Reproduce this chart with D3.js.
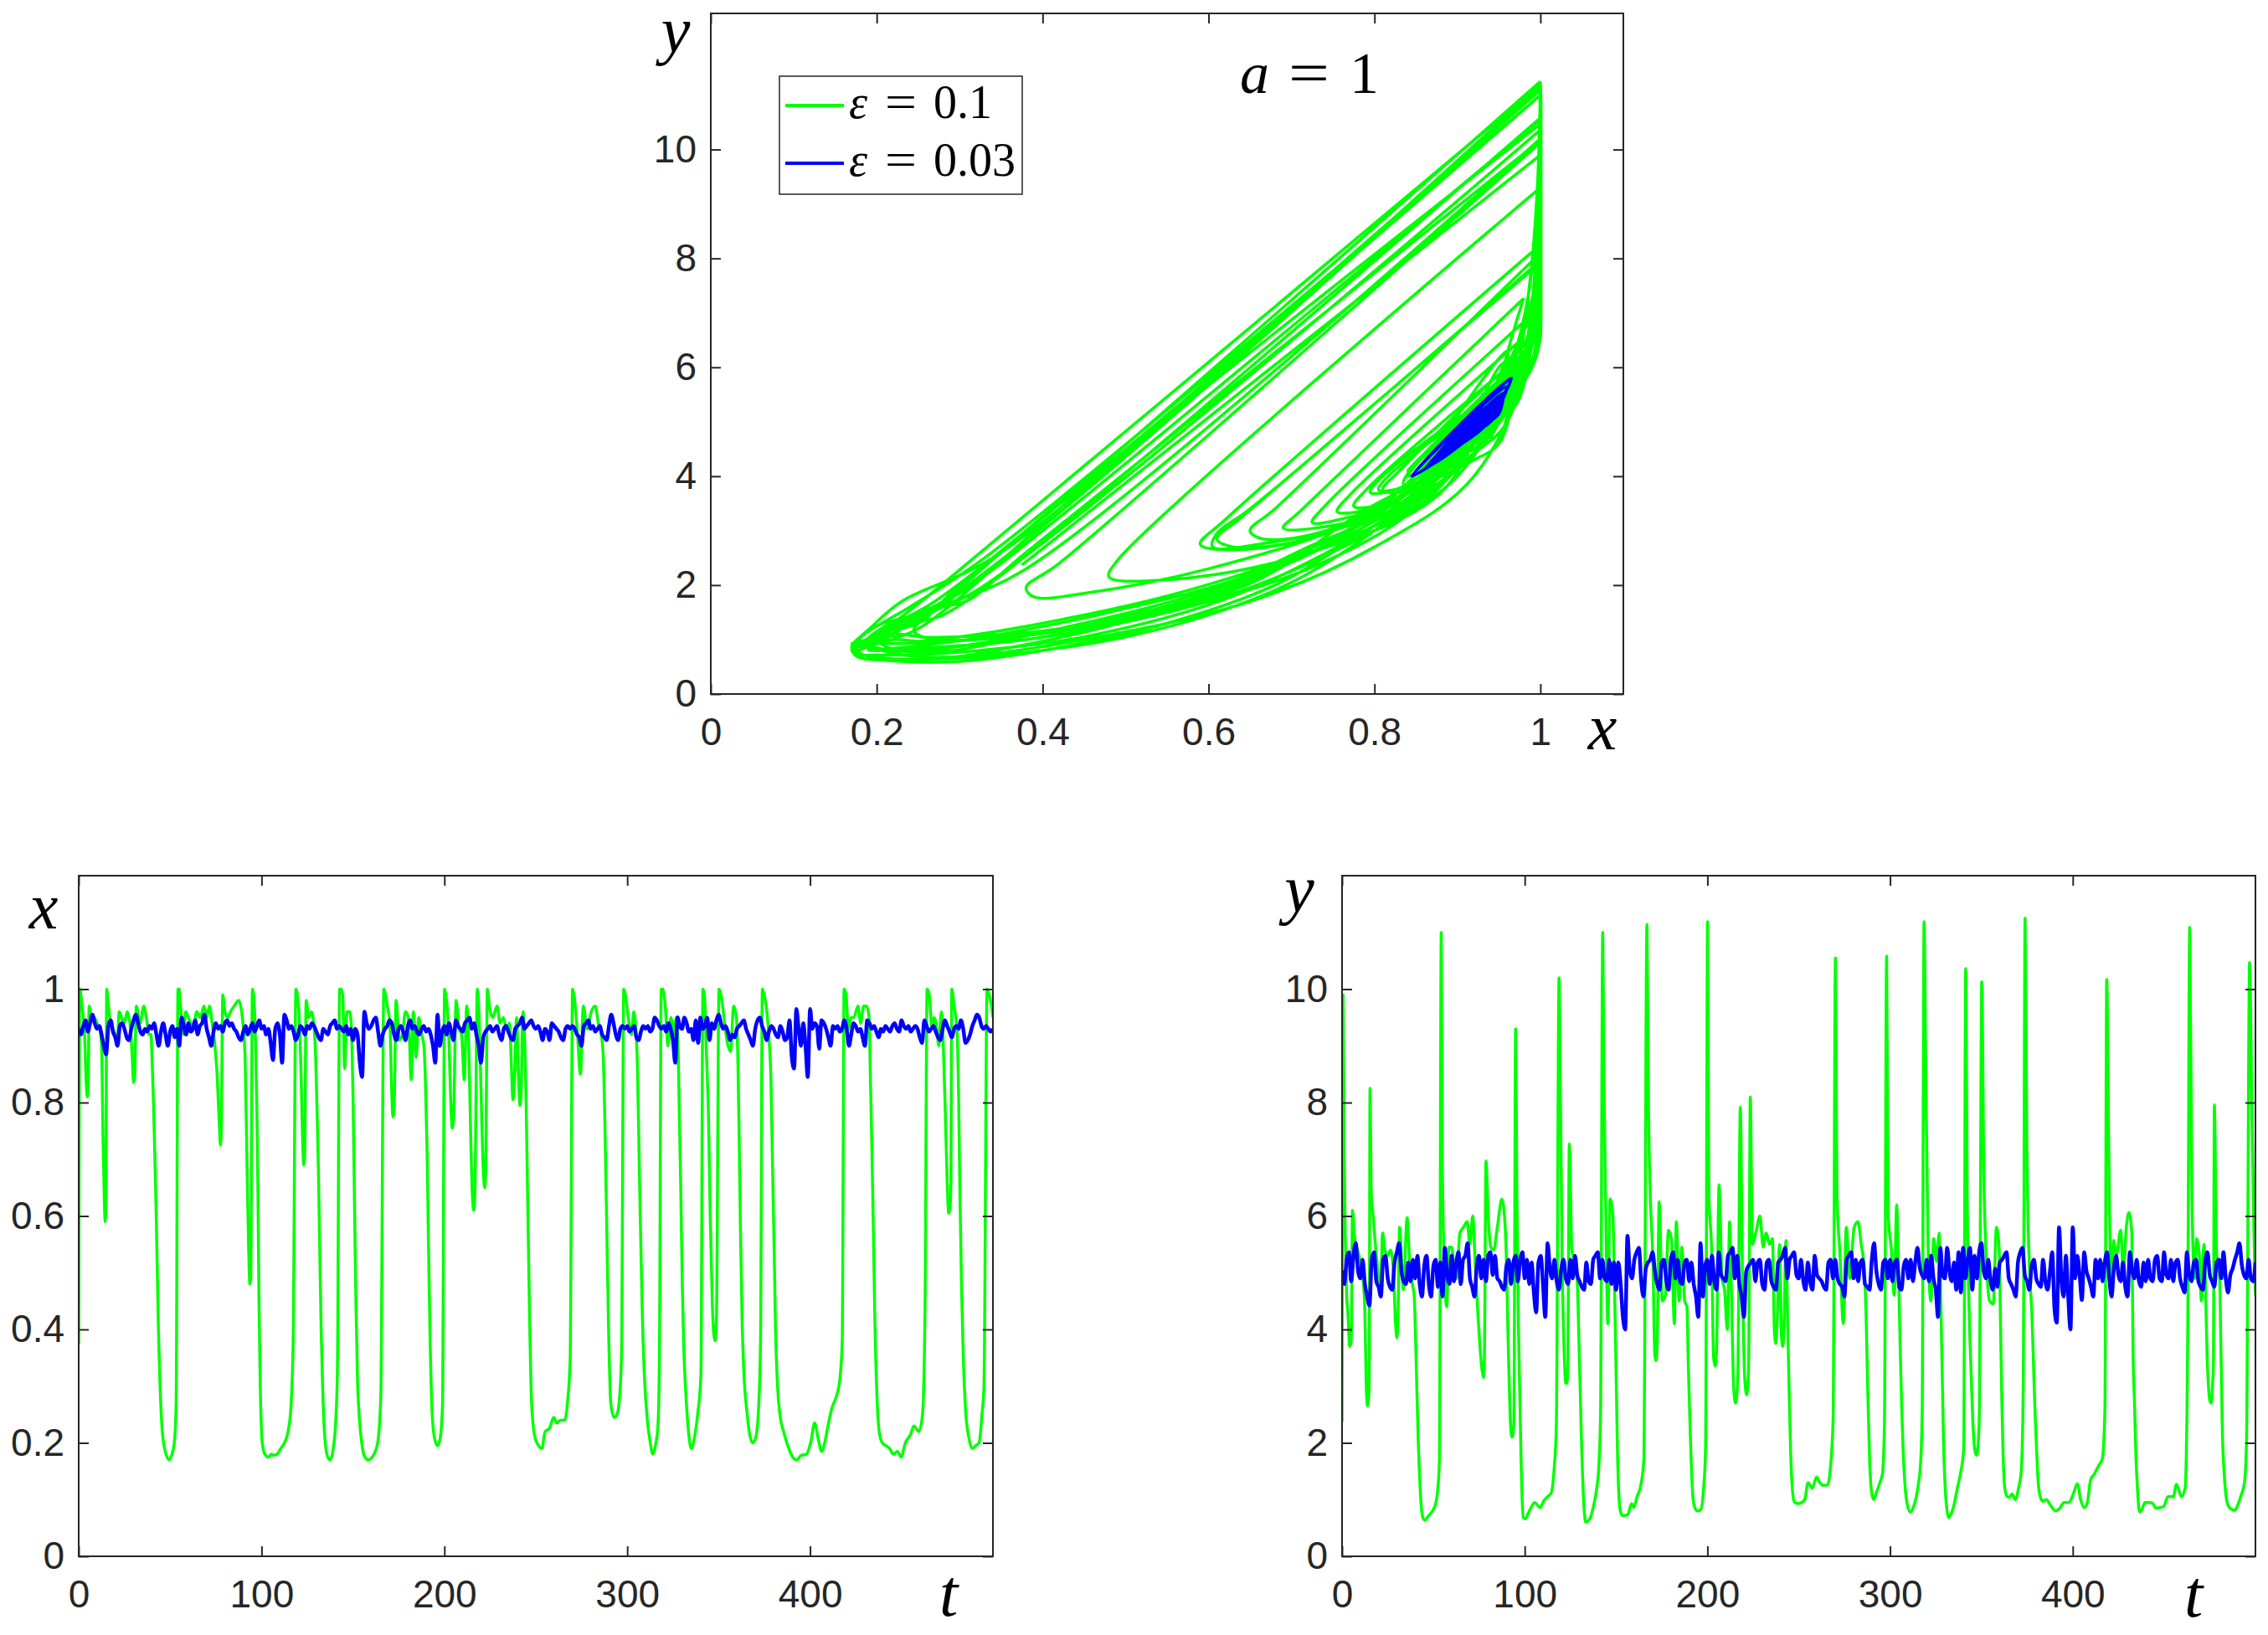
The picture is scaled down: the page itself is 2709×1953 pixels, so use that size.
<!DOCTYPE html>
<html>
<head>
<meta charset="utf-8">
<script src="https://d3js.org/d3.v7.min.js"></script>
<style>
  body { margin: 0; background: #fff; }
  .tick text { font-family: "Liberation Sans", Arial, sans-serif; font-size: 46px; fill: #262626; }
  .math { font-family: "Liberation Serif", "Times New Roman", serif; fill: #000; }
  .box { fill: none; stroke: #262626; stroke-width: 2px; }
</style>
</head>
<body>
<svg id="fig" width="2709" height="1953"></svg>
<script>
// ---- data: eps = 0.1 trajectory, samples [t, x, y] ----
const greenSamples = [
  [0,0.375,2.37],[0.6,1.0,9.9],[1.2,0.99,7.0],[1.8,0.97,5.6],[2.5,0.95,4.6],[3.2,0.92,4.3],[4.2,0.83,3.7],[4.8,0.81,3.75],
  [5.2,0.83,4.1],[5.7,0.97,6.1],[7.0,0.95,5.6],[8.5,0.95,5.4],[10.0,0.94,5.2],[11.5,0.93,4.9],[12.5,0.9,4.3],[13.3,0.74,2.95],
  [14.0,0.63,2.65],[14.5,0.59,2.75],[14.9,0.62,3.2],[15.3,1.0,8.25],[16.0,0.98,6.4],[17.0,0.95,6.0],[18.5,0.93,5.4],[20.0,0.92,4.9],
  [21.0,0.9,4.6],[22.2,0.96,5.7],[23.5,0.95,5.4],[25.0,0.94,5.3],[26.5,0.96,5.4],[28.0,0.94,5.1],[29.3,0.88,4.1],[30.0,0.835,3.85],
  [30.6,0.845,4.15],[31.5,0.97,5.8],[33.6,0.94,4.7],[35.6,0.97,5.97],[37.0,0.95,5.2],[38.5,0.92,4.8],[39.5,0.92,4.6],
  [40.2,0.87,3.9],[40.9,0.8,3.0],[41.7,0.7,2.05],[42.4,0.6,1.45],[43.0,0.5,1.05],[43.6,0.4,0.8],[44.5,0.3,0.66],[45.5,0.23,0.64],
  [47.0,0.19,0.7],[49.5,0.17,0.8],[51.0,0.18,0.9],[52.3,0.2,1.15],[53.3,0.27,1.7],[54.3,1.0,11.0],[54.9,1.0,7.0],[55.5,0.98,5.7],
  [57.3,0.92,4.4],[58.5,0.96,5.45],[60.0,0.95,5.45],[61.3,0.94,5.1],[62.7,0.93,4.9],[64.5,0.96,5.7],[66.5,0.95,5.8],[68.5,0.97,5.9],
  [70.0,0.95,5.5],[71.5,0.97,6.0],[73.0,0.94,5.1],[74.5,0.9,4.2],[75.5,0.86,3.7],[76.8,0.77,3.25],[77.5,0.725,3.15],[77.9,0.74,3.45],
  [78.8,0.99,6.97],[80.0,0.96,6.0],[81.5,0.95,5.45],[83.0,0.96,5.4],[85.0,0.97,5.8],[87.5,0.98,6.3],[89.5,0.95,5.7],
  [91.0,0.88,3.7],[92.0,0.7,2.5],[92.9,0.55,2.1],[93.6,0.48,2.15],[94.1,0.49,2.45],[95.0,1.0,9.3],[95.7,0.99,6.4],[96.6,0.92,4.0],
  [97.4,0.8,2.7],[98.0,0.65,1.7],[98.6,0.45,1.0],[99.3,0.3,0.68],[100.4,0.2,0.66],[101.8,0.18,0.75],[103.8,0.175,0.88],
  [105.5,0.18,0.95],[106.5,0.178,0.92],[108.5,0.18,0.86],[110.5,0.19,0.98],[112.5,0.2,1.05],[114.5,0.22,1.12],[116.0,0.26,1.5],
  [117.3,0.38,2.3],[118.8,1.0,10.2],[119.6,0.99,7.9],[120.6,0.95,5.0],[121.7,0.84,3.5],[122.5,0.73,3.05],[123.1,0.69,3.05],
  [123.6,0.71,3.35],[124.4,0.98,7.27],[125.8,0.95,5.4],[127.3,0.96,5.2],
  [128.8,0.93,4.8],[129.6,0.88,3.9],[130.4,0.78,2.9],[131.1,0.68,2.0],[131.8,0.55,1.3],[132.6,0.4,0.8],[133.4,0.3,0.6],
  [134.6,0.21,0.62],[136.2,0.175,0.7],[137.6,0.17,0.88],[139.2,0.19,1.15],[140.6,0.24,1.6],[141.5,0.33,2.5],[142.7,1.0,11.0],
  [143.5,1.0,8.0],[144.4,0.99,6.0],[145.5,0.86,4.1],[146.7,0.96,6.3],[148.2,0.96,6.05],[149.0,0.94,5.0],
  [149.6,0.88,4.0],[150.1,0.8,3.1],[150.8,0.63,1.8],[151.6,0.45,1.05],[152.5,0.31,0.78],[153.6,0.24,0.72],[154.8,0.2,0.72],
  [156.5,0.175,0.74],[158.5,0.17,0.93],[159.7,0.172,0.86],[161.5,0.18,1.05],[163.5,0.2,1.25],[165.2,0.28,1.7],[166.9,1.0,11.14],
  [167.8,0.99,7.8],[168.8,0.97,6.3],[170.2,0.94,5.2],[171.2,0.82,3.55],[171.9,0.775,3.45],[172.5,0.79,3.75],[173.6,0.98,6.25],
  [175.3,0.91,4.5],[177.0,0.92,4.6],[178.7,0.96,5.75],[180.3,0.95,5.6],[181.9,0.84,4.1],[183.0,0.96,5.9],[184.5,0.88,4.5],
  [186.0,0.95,5.45],[187.6,0.92,4.5],[188.8,0.9,4.4],
  [189.6,0.84,3.3],[190.5,0.72,2.3],[191.3,0.55,1.5],[192.2,0.38,1.0],[193.2,0.26,0.85],[194.5,0.21,0.8],[196.3,0.195,0.82],
  [197.8,0.21,1.15],[199.0,0.27,1.9],[200.1,1.0,11.19],
  [200.8,0.99,6.4],[202.4,0.92,5.3],[203.4,0.81,3.5],[204.3,0.755,3.35],[205.0,0.77,3.65],[206.4,0.98,6.55],[208.0,0.93,4.9],
  [209.4,0.92,4.7],[210.9,0.84,4.0],[212.2,0.97,5.9],[213.2,0.92,4.6],[214.4,0.74,2.95],[215.4,0.63,2.7],[216.1,0.61,2.85],
  [216.7,0.64,3.25],[218.0,1.0,7.92],[219.2,0.93,4.9],[220.5,0.76,3.1],[221.5,0.665,2.85],[222.1,0.65,3.0],[222.6,0.68,3.4],
  [223.5,1.0,8.1],[224.6,0.97,5.5],[226.5,0.95,5.7],[228.8,0.97,6.0],[230.5,0.94,5.45],[232.2,0.95,5.7],[234.0,0.93,5.5],
  [235.6,0.94,5.6],[236.7,0.86,3.95],[237.5,0.805,3.75],[238.1,0.82,4.05],[239.5,0.95,5.5],[240.6,0.84,3.85],[241.3,0.795,3.7],
  [241.9,0.81,4.0],[243.0,0.96,5.57],
  [244.0,0.9,4.0],[244.7,0.8,3.0],[245.6,0.62,1.8],[246.6,0.42,1.15],[247.7,0.27,0.95],[249.5,0.21,0.93],[251.5,0.195,0.95],
  [253.3,0.19,1.0],[255.1,0.22,1.3],[257.4,0.225,1.2],[259.8,0.245,1.4],[261.5,0.235,1.3],[263.5,0.24,1.25],[265.8,0.24,1.26],
  [267.3,0.27,1.55],[268.8,0.35,2.4],[270.1,1.0,10.55],
  [270.9,0.99,6.4],[272.6,0.93,5.3],[274.4,0.85,4.1],[276.0,0.97,5.8],[278.0,0.93,4.9],[280.3,0.96,5.8],[282.5,0.97,5.9],
  [284.2,0.94,5.5],[285.8,0.92,5.1],[286.9,0.88,4.2],[287.8,0.76,2.9],[288.8,0.58,1.7],[289.8,0.4,1.15],[291.0,0.27,1.0],
  [292.8,0.245,1.15],[294.4,0.25,1.3],[295.8,0.28,1.45],[296.9,0.36,2.3],[298.1,1.0,10.58],
  [299.0,0.99,6.0],[300.6,0.95,5.45],[302.3,0.92,4.6],[303.6,0.96,6.2],[304.7,0.93,4.9],[305.6,0.86,3.6],[306.3,0.74,2.7],
  [307.1,0.6,1.9],[308.3,0.42,1.2],[309.5,0.31,0.9],[311.0,0.24,0.78],[312.6,0.2,0.85],[314.0,0.18,1.0],[315.4,0.195,1.25],
  [316.8,0.23,1.7],[317.6,0.35,2.6],[318.6,1.0,11.19],
  [319.5,1.0,8.7],[320.8,0.97,5.5],[322.3,0.9,4.5],[323.9,0.95,5.6],[325.4,0.92,5.2],[326.9,0.95,5.7],[327.8,0.9,4.4],
  [328.5,0.78,3.3],[329.2,0.66,2.1],[330.1,0.48,1.25],[331.0,0.36,0.85],[332.0,0.29,0.68],[333.5,0.22,0.75],[335.1,0.19,0.92],
  [336.8,0.21,1.2],[338.5,0.25,1.45],[340.3,0.32,1.9],[341.4,1.0,10.36],
  [342.2,0.99,6.44],[343.4,0.88,4.2],[344.4,0.78,3.2],[345.4,0.6,2.3],[346.5,0.45,1.85],[347.4,0.39,1.78],[348.1,0.38,1.95],
  [348.8,0.42,2.4],[350.2,1.0,10.13],[351.3,0.99,6.8],[352.9,0.95,5.1],[354.5,0.91,4.5],[356.5,0.89,4.45],[358.2,0.97,5.8],
  [359.7,0.95,5.45],[360.6,0.86,3.8],[361.2,0.74,2.7],[361.9,0.58,1.75],[362.8,0.42,1.2],[364.0,0.31,1.06],[365.3,0.26,1.04],
  [366.7,0.22,1.1],[368.6,0.2,1.0],[370.3,0.21,1.2],[371.8,0.26,1.5],[372.9,0.38,3.0],[373.9,1.0,11.25],
  [374.9,0.99,7.2],[376.4,0.96,5.0],[377.6,0.91,4.3],[378.6,0.84,3.3],[379.4,0.7,2.5],[380.3,0.55,1.8],[381.1,0.4,1.3],
  [382.2,0.3,1.05],[383.5,0.25,0.97],[385.5,0.22,1.0],[387.8,0.195,0.9],[390.5,0.175,0.8],[392.7,0.17,0.84],[395.2,0.178,0.95],
  [398.0,0.18,0.95],[400.3,0.2,1.1],[402.5,0.235,1.28],[404.3,0.21,1.0],[406.3,0.185,0.86],[408.0,0.2,0.95],[409.8,0.23,1.35],
  [411.8,0.26,1.45],[414.2,0.28,1.6],[416.2,0.31,1.72],[417.6,0.38,2.6],[418.6,1.0,10.17],
  [419.7,0.99,7.2],[420.9,0.93,4.9],[422.4,0.95,5.57],[423.9,0.95,5.3],[426.2,0.97,5.75],[427.7,0.94,5.0],[429.3,0.97,5.8],
  [430.8,0.97,6.06],[432.3,0.95,5.7],[433.0,0.84,3.6],[433.8,0.72,2.7],[434.6,0.58,1.75],[435.4,0.42,1.2],[436.6,0.28,0.78],
  [437.8,0.22,0.82],[439.5,0.2,0.95],[441.5,0.195,0.95],[443.5,0.19,0.94],[445.6,0.18,0.85],[447.8,0.185,0.86],[449.8,0.175,0.88],
  [452.1,0.2,1.05],[455.0,0.215,1.05],[456.8,0.23,1.27],[459.5,0.22,1.05],[461.5,0.25,1.2],[462.9,0.45,3.8],[464.0,1.0,11.09],
  [465.2,0.99,6.44],[466.7,0.93,4.9],[467.8,0.95,5.6],[469.3,0.93,5.3],[470.4,0.9,4.5],[471.8,0.96,5.5],[473.8,0.8,3.3],
  [475.0,0.66,2.75],[475.8,0.605,2.7],[476.4,0.61,2.95],[477.0,0.65,3.4],[477.5,1.0,7.96],[478.8,0.97,5.3],[480.3,0.93,5.0],
  [481.2,0.82,3.5],[481.9,0.65,2.2],[482.8,0.48,1.5],[483.8,0.35,1.1],[485.0,0.26,0.9],[486.8,0.21,0.83],[488.7,0.19,0.81],
  [490.5,0.195,0.92],[492.4,0.2,1.1],[494.0,0.25,1.3],[495.1,0.3,2.0],[496.8,1.0,10.47],[498.0,0.99,7.96],[499.2,0.97,5.7],
  [500,0.95,4.6]
];

// ---- data: eps = 0.03, sampled every blueStep time units ----
const blueStep = 1.25;
const blueX = [
  0.93,0.92,0.935,0.945,0.925,0.94,0.955,0.94,0.93,0.935,0.92,0.9,0.885,0.935,0.945,0.925,0.915,0.9,0.935,0.94,
  0.93,0.915,0.91,0.93,0.945,0.955,0.94,0.925,0.92,0.93,0.925,0.935,0.93,0.94,0.92,0.9,0.925,0.94,0.92,0.9,
  0.925,0.935,0.915,0.93,0.9,0.95,0.935,0.92,0.94,0.925,0.93,0.945,0.92,0.935,0.94,0.955,0.93,0.915,0.9,0.925,
  0.94,0.93,0.935,0.925,0.94,0.945,0.935,0.94,0.93,0.925,0.915,0.91,0.925,0.935,0.92,0.93,0.94,0.925,0.935,0.945,
  0.93,0.935,0.92,0.93,0.905,0.875,0.93,0.94,0.92,0.87,0.955,0.945,0.93,0.935,0.925,0.91,0.92,0.935,0.93,0.92,
  0.935,0.93,0.94,0.935,0.925,0.915,0.91,0.93,0.925,0.92,0.935,0.94,0.945,0.93,0.935,0.93,0.925,0.935,0.92,0.93,
  0.91,0.93,0.92,0.87,0.845,0.96,0.94,0.93,0.935,0.945,0.95,0.925,0.9,0.92,0.93,0.935,0.945,0.94,0.92,0.91,
  0.93,0.935,0.925,0.91,0.935,0.945,0.93,0.935,0.925,0.92,0.93,0.935,0.925,0.93,0.92,0.9,0.87,0.955,0.9,0.925,
  0.935,0.92,0.94,0.925,0.91,0.945,0.935,0.93,0.925,0.94,0.945,0.95,0.93,0.94,0.92,0.9,0.87,0.915,0.925,0.93,
  0.935,0.925,0.93,0.935,0.92,0.91,0.93,0.935,0.925,0.915,0.91,0.93,0.935,0.94,0.95,0.93,0.935,0.94,0.945,0.935,
  0.93,0.935,0.925,0.91,0.93,0.925,0.91,0.94,0.935,0.93,0.925,0.915,0.91,0.93,0.935,0.93,0.935,0.93,0.92,0.915,
  0.9,0.935,0.94,0.945,0.93,0.935,0.925,0.93,0.935,0.92,0.915,0.91,0.935,0.955,0.94,0.92,0.91,0.93,0.935,0.93,
  0.935,0.925,0.93,0.935,0.915,0.91,0.925,0.935,0.93,0.935,0.925,0.93,0.95,0.945,0.935,0.93,0.935,0.925,0.94,0.93,
  0.91,0.87,0.95,0.935,0.93,0.95,0.94,0.925,0.93,0.91,0.945,0.905,0.95,0.93,0.935,0.95,0.91,0.94,0.93,0.945,
  0.955,0.94,0.93,0.935,0.925,0.91,0.92,0.915,0.93,0.935,0.94,0.945,0.93,0.92,0.91,0.9,0.93,0.945,0.95,0.935,
  0.925,0.91,0.925,0.935,0.93,0.92,0.915,0.935,0.925,0.91,0.915,0.945,0.88,0.86,0.965,0.93,0.9,0.94,0.9,0.845,
  0.965,0.93,0.94,0.935,0.895,0.945,0.94,0.93,0.915,0.9,0.935,0.93,0.935,0.925,0.93,0.945,0.93,0.9,0.92,0.94,
  0.935,0.925,0.93,0.915,0.9,0.945,0.94,0.93,0.935,0.925,0.915,0.93,0.925,0.935,0.93,0.925,0.935,0.94,0.93,0.925,
  0.945,0.935,0.93,0.935,0.925,0.93,0.935,0.93,0.915,0.905,0.945,0.935,0.925,0.93,0.935,0.925,0.915,0.91,0.93,0.945,
  0.935,0.925,0.915,0.93,0.935,0.93,0.945,0.93,0.905,0.91,0.92,0.935,0.945,0.955,0.95,0.935,0.93,0.935,0.93,0.925,
  0.93
];
const blueY = [
  5.04,4.80,5.23,5.36,4.85,5.30,5.52,5.03,4.90,5.23,4.80,4.58,4.42,5.23,5.36,4.85,4.75,4.58,5.23,5.30,
  4.90,4.75,4.70,5.18,5.36,5.52,5.03,4.85,4.80,5.18,4.85,5.23,4.90,5.30,4.80,4.58,5.12,5.30,4.80,4.58,
  5.12,5.23,4.75,5.18,4.58,5.44,4.96,4.80,5.30,4.85,5.18,5.36,4.80,5.23,5.30,5.52,4.90,4.75,4.58,5.12,
  5.30,4.90,5.23,4.85,5.30,5.36,4.96,5.30,4.90,4.85,4.75,4.70,5.12,5.23,4.80,5.18,5.30,4.85,5.23,5.36,
  4.90,5.23,4.80,5.18,4.65,4.30,5.18,5.30,4.80,4.22,5.52,5.09,4.90,5.23,4.85,4.70,5.07,5.23,4.90,4.80,
  5.23,4.90,5.30,4.96,4.85,4.75,4.70,5.18,4.85,4.80,5.23,5.30,5.36,4.90,5.23,4.90,4.85,5.23,4.80,5.18,
  4.70,5.18,4.80,4.22,4.00,5.65,5.03,4.90,5.23,5.36,5.44,4.85,4.58,5.07,5.18,5.23,5.36,5.03,4.80,4.70,
  5.18,5.23,4.85,4.70,5.23,5.36,4.90,5.23,4.85,4.80,5.18,5.23,4.85,5.18,4.80,4.58,4.22,5.52,4.58,5.12,
  5.23,4.80,5.30,4.85,4.70,5.36,4.96,4.90,4.85,5.30,5.36,5.44,4.90,5.30,4.80,4.58,4.22,5.02,5.12,5.18,
  5.23,4.85,5.18,5.23,4.80,4.70,5.18,5.23,4.85,4.75,4.70,5.18,5.23,5.30,5.44,4.90,5.23,5.30,5.36,4.96,
  4.90,5.23,4.85,4.70,5.18,4.85,4.70,5.30,4.96,4.90,4.85,4.75,4.70,5.18,5.23,4.90,5.23,4.90,4.80,4.75,
  4.58,5.23,5.30,5.36,4.90,5.23,4.85,5.18,5.23,4.80,4.75,4.70,5.23,5.52,5.03,4.80,4.70,5.18,5.23,4.90,
  5.23,4.85,5.18,5.23,4.75,4.70,5.12,5.23,4.90,5.23,4.85,5.18,5.44,5.09,4.96,4.90,5.23,4.85,5.30,4.90,
  4.70,4.22,5.44,4.96,4.90,5.44,5.03,4.85,5.18,4.70,5.36,4.65,5.44,4.90,5.23,5.44,4.70,5.30,4.90,5.36,
  5.52,5.03,4.90,5.23,4.85,4.70,5.07,4.75,5.18,5.23,5.30,5.36,4.90,4.80,4.70,4.58,5.18,5.36,5.44,4.96,
  4.85,4.70,5.12,5.23,4.90,4.80,4.75,5.23,4.85,4.70,5.02,5.36,4.36,4.12,5.80,4.90,4.58,5.30,4.58,4.00,
  5.80,4.90,5.30,4.96,4.52,5.36,5.03,4.90,4.75,4.58,5.23,4.90,5.23,4.85,5.18,5.36,4.90,4.58,5.07,5.30,
  4.96,4.85,5.18,4.75,4.58,5.36,5.03,4.90,5.23,4.85,4.75,5.18,4.85,5.23,4.90,4.85,5.23,5.30,4.90,4.85,
  5.36,4.96,4.90,5.23,4.85,5.18,5.23,4.90,4.75,4.65,5.36,4.96,4.85,5.18,5.23,4.85,4.75,4.70,5.18,5.36,
  4.96,4.85,4.75,5.18,5.23,4.90,5.36,4.90,4.65,4.96,5.07,5.23,5.36,5.52,5.15,4.96,4.90,5.23,4.90,4.85,
  5.18
];

// ---- ticks and labels ----
const phaseXTicks = [0, 0.2, 0.4, 0.6, 0.8, 1];
const phaseYTicks = [0, 2, 4, 6, 8, 10];
const timeTicks = [0, 100, 200, 300, 400];
const xSeriesTicks = [0, 0.2, 0.4, 0.6, 0.8, 1];
const ySeriesTicks = [0, 2, 4, 6, 8, 10];
const legendValues = ["0.1", "0.03"];

const green = "#00ff00", blue = "#0000ff";
const axisColor = "#262626";

const svg = d3.select("#fig");
const fmt = d3.format("~g");
const tickLen = 12;

const blueT = blueX.map((d, i) => i * blueStep);

function panel(cfg) {
  const g = svg.append("g").attr("transform", `translate(${cfg.left},${cfg.top})`);
  const x = d3.scaleLinear().domain(cfg.xDomain).range([0, cfg.width]);
  const y = d3.scaleLinear().domain(cfg.yDomain).range([cfg.height, 0]);

  // the phase portrait lives in x <= 1, so its clip stops just past that line
  const clipW = cfg.clipX != null ? x(cfg.clipX) + 2.5 : cfg.width;
  g.append("clipPath").attr("id", cfg.id + "-clip")
    .append("rect").attr("width", clipW).attr("height", cfg.height);
  const plot = g.append("g").attr("clip-path", `url(#${cfg.id}-clip)`);

  const noDomain = sel => sel.select(".domain").remove();

  g.append("g").attr("transform", `translate(0,${cfg.height})`).attr("color", axisColor)
    .call(d3.axisBottom(x).tickValues(cfg.xTicks).tickSizeInner(-tickLen).tickSizeOuter(0).tickPadding(28).tickFormat(fmt))
    .call(noDomain);
  g.append("g").attr("color", axisColor)
    .call(d3.axisTop(x).tickValues(cfg.xTicks).tickSizeInner(-tickLen).tickSizeOuter(0).tickFormat(""))
    .call(noDomain);
  g.append("g").attr("color", axisColor)
    .call(d3.axisLeft(y).tickValues(cfg.yTicks).tickSizeInner(-tickLen).tickSizeOuter(0).tickPadding(17).tickFormat(fmt))
    .call(noDomain);
  g.append("g").attr("transform", `translate(${cfg.width},0)`).attr("color", axisColor)
    .call(d3.axisRight(y).tickValues(cfg.yTicks).tickSizeInner(-tickLen).tickSizeOuter(0).tickFormat(""))
    .call(noDomain);
  g.selectAll(".tick line").attr("stroke-width", 2);

  g.append("rect").attr("class", "box").attr("width", cfg.width).attr("height", cfg.height);
  return { g, plot, x, y };
}

// break a trajectory at its peaks against x = 1, so the smoothing keeps those corners sharp
function splitAtPeaks(data, xf, yf) {
  const pieces = [];
  let cur = [data[0]];
  for (let i = 1; i < data.length; i++) {
    cur.push(data[i]);
    const next = data[i + 1];
    if (next !== undefined && xf(data[i]) >= 0.98 &&
        yf(data[i]) > yf(data[i - 1]) && yf(data[i]) > yf(next)) {
      pieces.push(cur);
      cur = [data[i]];
    }
  }
  pieces.push(cur);
  return pieces;
}

function drawLine(p, data, xf, yf, color, width, curve, split) {
  const line = d3.line().curve(curve).x(d => p.x(xf(d))).y(d => p.y(yf(d)));
  const pieces = split ? splitAtPeaks(data, xf, yf) : [data];
  p.plot.append("path")
    .attr("fill", "none")
    .attr("stroke", color)
    .attr("stroke-width", width)
    .attr("stroke-linejoin", "round")
    .attr("d", pieces.map(line).join(""));
}

function mathLabel(text, x, y, size) {
  svg.append("text").attr("class", "math")
    .attr("x", x).attr("y", y)
    .attr("text-anchor", "middle")
    .attr("font-size", size)
    .attr("font-style", "italic")
    .text(text);
}

const phaseCurve = d3.curveCatmullRom.alpha(0.5);
const timeCurve = d3.curveMonotoneX;

// ---- phase portrait ----
const phasePanel = panel({ id: "phase", left: 849, top: 16, width: 1090, height: 813, clipX: 1,
  xDomain: [0, 1.1], yDomain: [0, 12.5], xTicks: phaseXTicks, yTicks: phaseYTicks });
drawLine(phasePanel, greenSamples, d => d[1], d => d[2], green, 3.5, phaseCurve, true);
drawLine(phasePanel, d3.range(blueX.length), i => blueX[i], i => blueY[i], blue, 3.5, phaseCurve, false);

// legend
const leg = svg.append("g");
leg.append("rect").attr("x", 931).attr("y", 91).attr("width", 290).attr("height", 141)
  .attr("fill", "#fff").attr("stroke", axisColor).attr("stroke-width", 1.5);
[green, blue].forEach((c, i) => {
  const ly = 126 + i * 69;
  leg.append("line").attr("x1", 938).attr("x2", 1008).attr("y1", ly).attr("y2", ly)
    .attr("stroke", c).attr("stroke-width", 4);
  const base = ly + 15;
  leg.append("text").attr("class", "math").attr("x", 1014).attr("y", base)
    .attr("font-size", 56).attr("font-style", "italic").text("\u03b5");
  leg.append("text").attr("class", "math").attr("x", 1057).attr("y", base)
    .attr("font-size", 56).attr("textLength", 38).attr("lengthAdjust", "spacingAndGlyphs").text("=");
  leg.append("text").attr("class", "math").attr("x", 1115).attr("y", base)
    .attr("font-size", 56).text(legendValues[i]);
});

// a = 1
svg.append("text").attr("class", "math").attr("x", 1481).attr("y", 111)
  .attr("font-size", 70).attr("font-style", "italic").text("a");
svg.append("text").attr("class", "math").attr("x", 1539).attr("y", 111)
  .attr("font-size", 70).attr("textLength", 49).attr("lengthAdjust", "spacingAndGlyphs").text("=");
svg.append("text").attr("class", "math").attr("x", 1612).attr("y", 111)
  .attr("font-size", 70).text("1");

mathLabel("y", 807, 62, 78);
mathLabel("x", 1914, 895, 78);

// ---- x(t) ----
const xtPanel = panel({ id: "xt", left: 94, top: 1046, width: 1092, height: 813,
  xDomain: [0, 500], yDomain: [0, 1.2], xTicks: timeTicks, yTicks: xSeriesTicks });
drawLine(xtPanel, greenSamples, d => d[0], d => d[1], green, 3.5, timeCurve, false);
drawLine(xtPanel, d3.range(blueX.length), i => blueT[i], i => blueX[i], blue, 4.5, timeCurve, false);
mathLabel("x", 52, 1109, 78);
mathLabel("t", 1133, 1930, 80);

// ---- y(t) ----
const ytPanel = panel({ id: "yt", left: 1603, top: 1046, width: 1091, height: 813,
  xDomain: [0, 500], yDomain: [0, 12], xTicks: timeTicks, yTicks: ySeriesTicks });
drawLine(ytPanel, greenSamples, d => d[0], d => d[2], green, 3.5, timeCurve, false);
drawLine(ytPanel, d3.range(blueY.length), i => blueT[i], i => blueY[i], blue, 4.5, timeCurve, false);
mathLabel("y", 1552, 1089, 80);
mathLabel("t", 2620, 1931, 80);
</script>
</body>
</html>
